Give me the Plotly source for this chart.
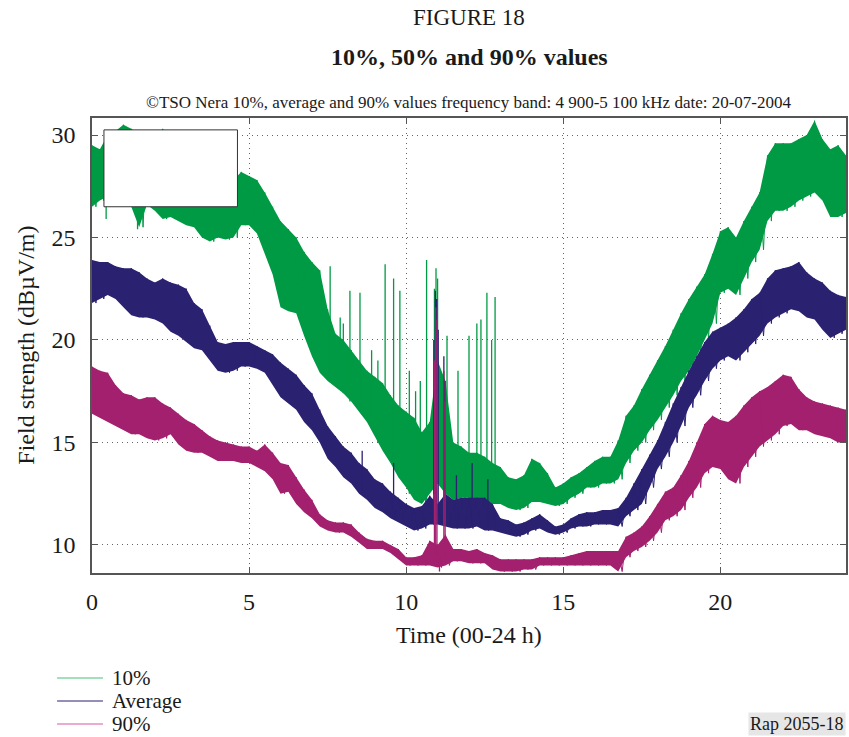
import plotly.graph_objects as go

# Sampling grid: readings every quarter hour over the day
STEP = 0.25
hours = [i * STEP for i in range(97)]

# 10 % exceeded values: upper / lower envelope of the trace (dBuV/m)
p10_hi = [
    29.5, 29.3, 30.0, 30.2,
    30.5, 30.3, 30.0, 29.8,
    29.5, 30.3, 29.0, 28.8,
    28.5, 28.3, 28.0, 27.8,
    27.5, 27.6, 27.8, 28.2,
    28.0, 27.8, 27.2, 26.5,
    25.8, 25.4, 25.0, 24.3,
    23.8, 23.4, 21.5, 20.3,
    20.0, 19.5, 19.0, 18.5,
    18.2, 17.9, 17.3, 16.8,
    16.5, 16.2, 15.5, 16.0,
    19.0, 18.0, 15.0, 14.8,
    14.5, 14.5, 14.3, 14.0,
    13.8, 13.3, 13.2, 13.4,
    14.2, 14.0, 13.5, 12.8,
    13.0, 13.3, 13.5, 13.8,
    14.1, 14.3, 14.3, 15.1,
    16.3, 16.8, 17.6, 18.3,
    19.0, 19.7, 20.5, 21.3,
    22.0, 22.6, 23.2, 24.2,
    25.3, 25.5, 25.0, 25.8,
    26.5, 27.2, 29.0, 29.6,
    29.6, 29.6, 29.8, 30.0,
    30.7, 29.8, 29.3, 29.5,
    29.0,
]
p10_lo = [
    26.5, 26.8, 27.0, 27.0,
    26.8, 26.5, 25.5, 26.6,
    26.3, 25.9, 26.0, 25.8,
    25.6, 25.5, 25.0, 24.8,
    25.0, 24.9, 25.0, 25.6,
    25.6, 25.2, 24.2, 23.2,
    21.6, 21.4, 21.3, 20.2,
    19.2, 18.4, 18.0, 17.7,
    17.4, 17.0, 16.5, 16.0,
    15.3, 14.6, 14.0, 13.3,
    12.8, 12.2, 12.0, 12.5,
    13.0, 12.5, 12.2, 12.3,
    12.3, 12.2, 12.2, 12.0,
    12.0, 11.8, 11.7, 11.8,
    12.1, 12.1, 12.0, 11.9,
    12.0, 12.3, 12.5, 12.8,
    12.8, 13.0, 13.0, 13.2,
    14.0, 14.6, 15.0, 15.6,
    16.1, 16.7, 17.3, 18.0,
    18.5, 19.2, 20.0, 20.8,
    22.3, 22.5, 22.2, 23.0,
    23.8, 24.4, 25.8, 26.3,
    26.3, 26.5, 26.8, 27.0,
    27.2, 26.8, 26.0, 26.0,
    26.2,
]

# Average values
avg_hi = [
    23.9, 23.8, 23.8, 23.6,
    23.5, 23.5, 23.3, 23.0,
    22.8, 23.0, 22.8, 22.7,
    22.5, 21.8, 21.5, 20.7,
    19.9, 19.8, 19.9, 19.9,
    19.9, 19.7, 19.5, 19.3,
    18.9, 18.6, 18.3, 17.8,
    17.4, 16.6, 15.8, 15.3,
    14.8, 14.5, 14.0, 13.7,
    13.2, 13.0, 12.6, 12.3,
    12.0, 11.8, 11.9, 12.4,
    12.0, 12.5, 12.2, 12.3,
    12.3, 12.3, 12.3, 12.0,
    11.3, 11.2, 11.0, 11.1,
    11.3, 11.5, 11.2, 10.9,
    11.0, 11.3, 11.5, 11.6,
    11.6, 11.7, 11.7, 11.8,
    12.3, 13.0, 13.7, 14.4,
    15.1, 16.0, 16.9, 17.7,
    18.5, 19.2, 19.9, 20.4,
    20.6, 20.8, 21.1, 21.5,
    22.0, 22.3, 23.0, 23.4,
    23.5, 23.6, 23.8, 23.3,
    23.0, 22.8, 22.4, 22.2,
    22.1,
]
avg_lo = [
    21.8, 22.0, 22.2, 22.0,
    21.6, 21.2, 21.1, 21.1,
    21.0, 20.8, 20.4, 20.2,
    19.9, 19.6, 19.5, 19.0,
    18.5, 18.4, 18.5, 18.7,
    18.7, 18.6, 18.4, 17.8,
    17.2, 16.9, 16.6, 16.0,
    15.6, 15.0, 14.2, 13.8,
    13.3, 13.0, 12.5, 12.2,
    11.8, 11.6, 11.3, 11.1,
    10.9, 10.7, 10.8, 11.0,
    11.0, 10.9, 10.8, 10.8,
    10.8, 10.9, 10.7, 10.7,
    10.6, 10.5, 10.4, 10.5,
    10.7, 10.8, 10.6, 10.5,
    10.6, 10.8, 10.9, 10.9,
    11.0, 11.0, 11.0, 10.9,
    11.4, 11.7, 12.0, 12.8,
    13.7, 14.3, 15.0, 15.8,
    16.7, 17.3, 18.0, 18.6,
    19.0, 19.2, 19.0, 19.4,
    19.8, 20.2, 20.8, 21.1,
    21.3, 21.5, 21.4, 21.1,
    21.0, 20.5, 20.1, 20.3,
    20.5,
]

# 90 % exceeded values
p90_hi = [
    18.7, 18.5, 18.4, 17.8,
    17.4, 17.3, 17.1, 17.2,
    17.2, 16.9, 16.7, 16.4,
    16.1, 15.9, 15.6, 15.3,
    15.1, 15.0, 14.9, 14.8,
    14.8, 14.6, 14.9, 14.5,
    14.0, 13.9, 13.3, 12.7,
    12.2, 11.5, 11.2, 11.1,
    11.1, 11.0, 10.6, 10.3,
    10.2, 10.2, 10.0, 9.8,
    9.4, 9.4, 9.5, 10.2,
    10.0, 10.5, 9.8, 9.8,
    9.7, 9.8, 9.6, 9.5,
    9.3, 9.3, 9.3, 9.3,
    9.3, 9.4, 9.4, 9.4,
    9.4, 9.5, 9.6, 9.7,
    9.7, 9.7, 9.7, 9.7,
    10.4, 10.6, 10.9, 11.4,
    12.0, 12.6, 12.8, 13.4,
    14.1, 15.0, 15.9, 16.3,
    16.1, 16.0, 16.3, 16.8,
    17.2, 17.5, 17.7, 18.0,
    18.3, 18.2, 17.6, 17.2,
    17.0, 16.9, 16.8, 16.7,
    16.6,
]
p90_lo = [
    16.4, 16.2, 16.0, 15.8,
    15.6, 15.4, 15.4, 15.2,
    15.1, 15.2, 15.4, 14.9,
    14.6, 14.5, 14.5, 14.3,
    14.1, 14.1, 14.1, 14.0,
    14.0, 13.8, 13.6, 13.2,
    12.5, 12.6, 12.0, 11.6,
    11.3, 10.9, 10.7, 10.6,
    10.6, 10.4, 10.1, 9.8,
    9.8, 9.8, 9.6, 9.3,
    9.0, 9.0, 9.0, 9.0,
    8.9, 9.0, 9.2, 9.2,
    9.1, 9.1, 9.1, 8.8,
    8.7, 8.7, 8.7, 8.8,
    8.8, 9.0, 9.0, 9.0,
    9.0, 9.0, 9.0, 9.0,
    9.0, 9.0, 9.0, 8.7,
    9.4, 9.7, 9.9, 10.2,
    10.6, 11.2, 11.4, 11.7,
    12.3, 12.8, 13.5, 13.8,
    13.7, 13.2, 13.0, 13.8,
    14.3, 14.8, 15.1, 15.4,
    15.8, 15.9, 15.6, 15.6,
    15.4, 15.3, 15.2, 15.0,
    15.0,
]

# Short bursts: time (h), level the burst starts from, level it reaches
p10_burst_t = [0.45, 1.45, 7.58, 7.9, 8.0, 8.21, 8.53, 8.9, 9.1, 9.33, 9.6, 9.8,
               10.1, 10.3, 10.45, 10.65, 10.9, 10.95, 11.0, 11.3, 11.65, 12.0,
               12.25, 12.38, 12.57, 12.72, 12.83]
p10_burst_from = [27.0, 27.0, 18.0, 17.6, 17.4, 17.0, 16.5, 16.0, 15.0, 14.6, 14.0, 13.3,
                  12.5, 12.2, 12.2, 12.2, 13.0, 13.0, 13.0, 12.5, 12.3, 12.3,
                  12.2, 12.2, 12.2, 12.0, 12.0]
p10_burst_to = [25.9, 25.4, 23.6, 21.1, 20.8, 22.4, 22.3, 19.5, 19.0, 23.7, 23.0, 22.4,
                18.5, 17.5, 18.0, 23.9, 22.5, 23.5, 23.0, 20.2, 18.5, 20.2,
                20.8, 21.0, 22.3, 20.0, 22.1]

avg_burst_t = [8.6, 9.6, 10.88, 10.93, 10.97, 11.02, 11.2, 11.23, 11.6, 12.1, 12.6]
avg_burst_from = [12.5, 11.3, 11.5, 11.5, 11.5, 11.5, 11.5, 11.5, 11.2, 11.2, 11.0]
avg_burst_to = [14.6, 14.0, 20.0, 22.4, 22.0, 20.5, 19.2, 18.0, 13.4, 14.0, 13.2]

p90_burst_t = [10.9, 10.94, 10.98, 11.06, 11.2, 11.24]
p90_burst_from = [9.5, 9.5, 9.5, 9.5, 9.5, 9.5]
p90_burst_to = [19.0, 21.6, 21.0, 8.7, 18.5, 17.0]

series = [
    ("10%", p10_hi, p10_lo, p10_burst_t, p10_burst_from, p10_burst_to, "#009a44", "#45c177"),
    ("Average", avg_hi, avg_lo, avg_burst_t, avg_burst_from, avg_burst_to, "#2a2171", "#2a2171"),
    ("90%", p90_hi, p90_lo, p90_burst_t, p90_burst_from, p90_burst_to, "#a3206f", "#d4599f"),
]

FONT = "Liberation Serif"
fig = go.Figure()

for name, hi, lo, bt, bfrom, bto, color, key_color in series:
    # solid body between the envelopes
    fig.add_trace(go.Scatter(
        x=hours + hours[::-1], y=hi + lo[::-1], fill="toself",
        fillcolor=color, line=dict(width=0), mode="lines",
        hoverinfo="skip", showlegend=False))
    # ragged trace swinging between the envelopes
    zx, zy = [], []
    for t, h, l in zip(hours, hi, lo):
        zx += [t, t + STEP / 2]
        zy += [h, l]
    fig.add_trace(go.Scatter(
        x=zx, y=zy, mode="lines", name=name,
        line=dict(color=color, width=1), showlegend=False))
    # short bursts
    sx, sy = [], []
    for t, a, b in zip(bt, bfrom, bto):
        sx += [t, t, None]
        sy += [a, b, None]
    fig.add_trace(go.Scatter(
        x=sx, y=sy, mode="lines", line=dict(color=color, width=1.3),
        hoverinfo="skip", showlegend=False))

# key below the plot
key_rows = [("10%", "#45c177", 678), ("Average", "#2a2171", 701), ("90%", "#d4599f", 724)]
shapes = []
annotations = []
for label, c, py in key_rows:
    yp = (573 - py) / 455
    shapes.append(dict(type="line", xref="paper", yref="paper",
                       x0=(57 - 92) / 756, x1=(103 - 92) / 756, y0=yp, y1=yp,
                       line=dict(color=c, width=1.2)))
    annotations.append(dict(text=label, xref="paper", yref="paper",
                            x=(110 - 92) / 756, y=yp, xanchor="left", yanchor="middle",
                            showarrow=False, font=dict(family=FONT, size=21, color="#1a1a1a")))

# empty frame in the upper-left corner of the plot
shapes.append(dict(type="rect", xref="x", yref="y", x0=0.38, x1=4.63, y0=26.5, y1=30.25,
                   fillcolor="white", line=dict(color="#333333", width=1), layer="above"))


def ann(text, x, y, size, bold=False, **kw):
    d = dict(text=f"<b>{text}</b>" if bold else text, xref="paper", yref="paper",
             x=x, y=y, showarrow=False, xanchor="center", yanchor="middle",
             font=dict(family=FONT, size=size, color="#1a1a1a"))
    d.update(kw)
    return d


annotations += [
    ann("FIGURE 18", 0.5, (573 - 18) / 455, 23),
    ann("10%, 50% and 90% values", 0.5, (573 - 57) / 455, 24, bold=True),
    ann("©TSO Nera 10%, average and 90% values frequency band: 4 900-5 100 kHz date: 20-07-2004",
        0.5, (573 - 103) / 455, 17),
    ann("Time (00-24 h)", 0.5, (573 - 635) / 455, 24),
    ann("Field strength (dBµV/m)", (25 - 92) / 756, 0.5, 24, textangle=-90),
    ann("Rap 2055-18", 1.0, (573 - 724) / 455, 18, xanchor="right", bgcolor="#e6e6e6"),
]

axis_common = dict(
    showline=True, linecolor="#555555", linewidth=1.5, mirror="ticks",
    ticks="inside", ticklen=6, tickcolor="#555555", tickwidth=1,
    showgrid=True, gridcolor="#666666", gridwidth=1, griddash="1px,4px",
    zeroline=False, tickfont=dict(family=FONT, size=24, color="#1a1a1a"),
)

fig.update_layout(
    width=849, height=737,
    margin=dict(l=92, r=1, t=118, b=164),
    paper_bgcolor="white", plot_bgcolor="white",
    showlegend=False,
    xaxis=dict(range=[0, 24], tickvals=[0, 5, 10, 15, 20], ticklabelstandoff=6, **axis_common),
    yaxis=dict(range=[8.63, 30.83], tickvals=[10, 15, 20, 25, 30], ticklabelstandoff=10,
               **axis_common),
    shapes=shapes,
    annotations=annotations,
)

fig.write_html("out.html")
